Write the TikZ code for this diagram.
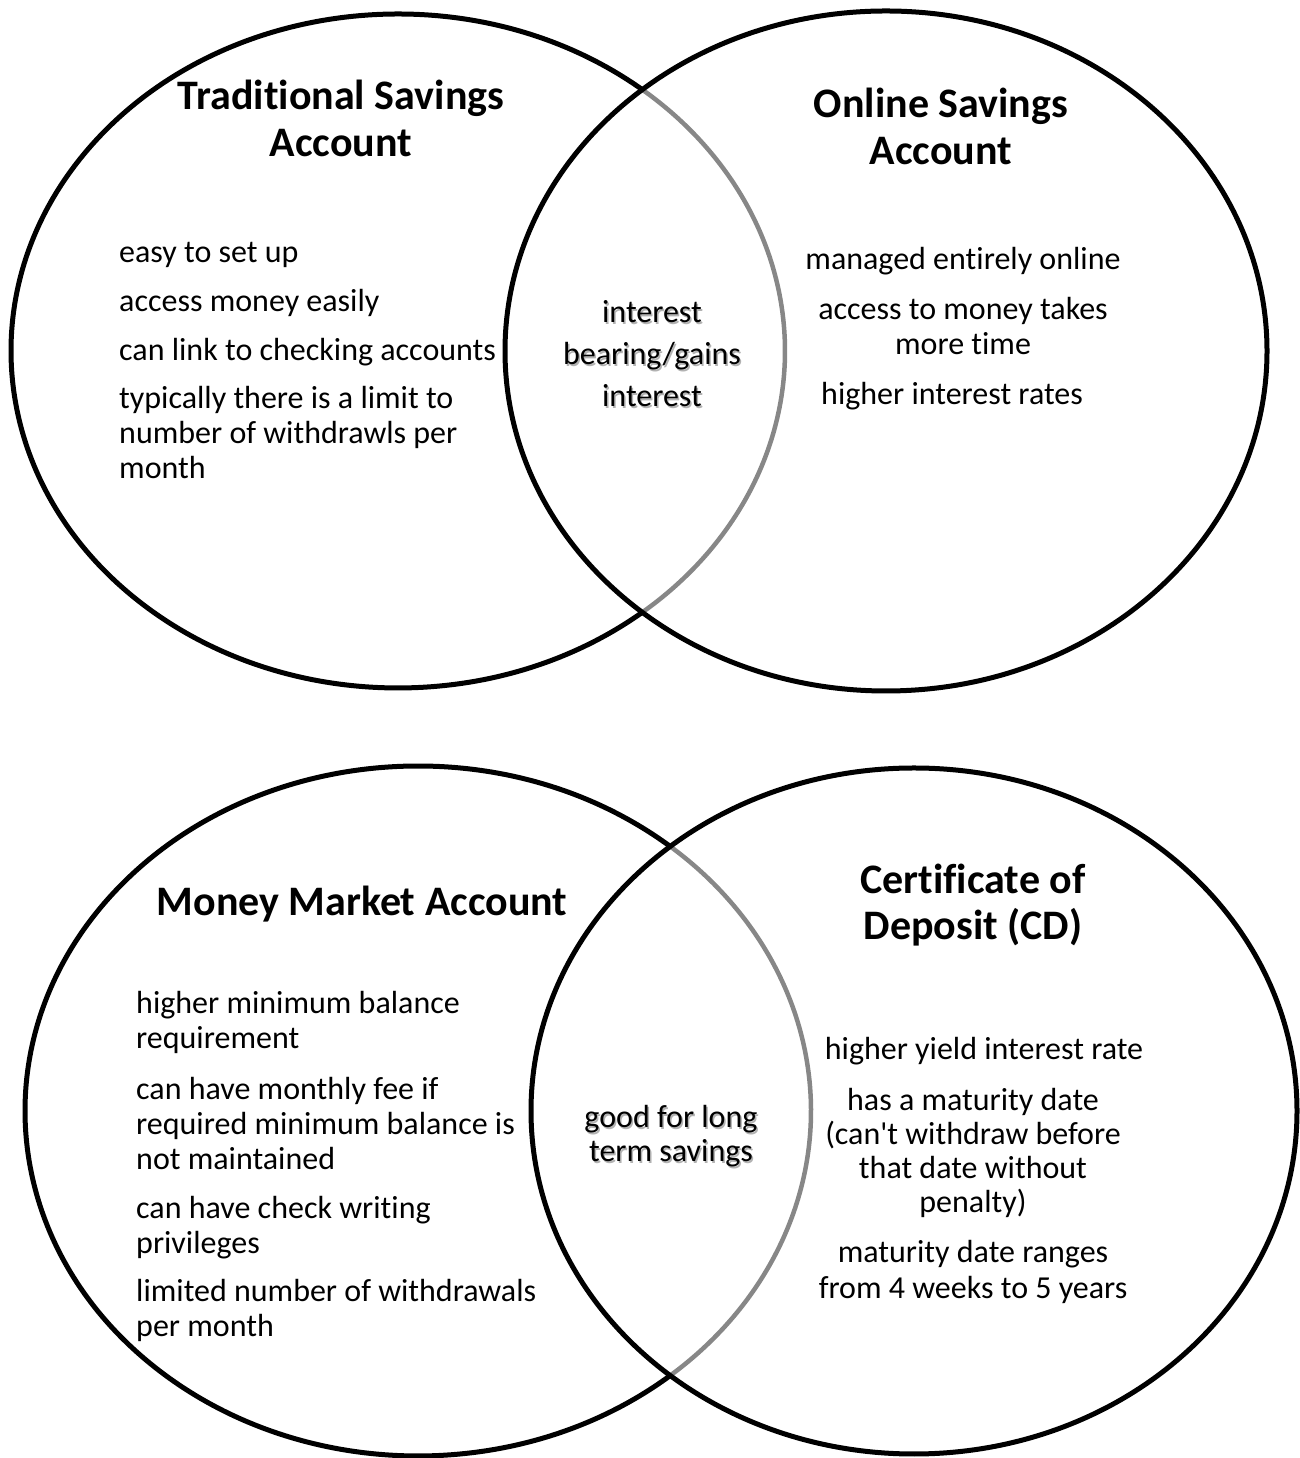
\documentclass[tikz,border=0pt]{standalone}
\usepackage{fontspec}
\setmainfont{Carlito}[Ligatures=NoCommon]
\newcommand\shadowed[1]{\makebox[0pt][l]{\kern1.5pt\raisebox{-1.5pt}{\textcolor{black!30}{#1}}}#1}
\tikzset{
  ring/.style={line width=5pt, draw=black},
  ringgray/.style={line width=4.5pt, draw=black!47},
  title/.style={font=\fontsize{42}{47}\selectfont\bfseries, align=center, anchor=base, inner sep=0pt},
  itemL/.style={font=\fontsize{32}{35}\selectfont, align=left, anchor=base west, inner sep=0pt},
  itemC/.style={font=\fontsize{32}{35}\selectfont, align=center, anchor=base, inner sep=0pt},
}
\begin{document}
\begin{tikzpicture}[x=1pt,y=1pt]
\useasboundingbox (0,0) rectangle (1300,1458);
% ---- top pair ----
\draw[ringgray] (398,1107) ++(-50.82:387pt and 337pt) arc[start angle=-50.82, end angle=50.82, x radius=387pt, y radius=337pt];
\draw[ring] (398,1107) ++(50.82:387pt and 337pt) arc[start angle=50.82, end angle=309.18, x radius=387pt, y radius=337pt];
\draw[ring] (886,1107) ellipse[x radius=381pt, y radius=340pt];
% ---- bottom pair ----
\draw[ringgray] (418,347) ++(-50.12:393pt and 345pt) arc[start angle=-50.12, end angle=50.12, x radius=393pt, y radius=345pt];
\draw[ring] (418,347) ++(50.12:393pt and 345pt) arc[start angle=50.12, end angle=309.88, x radius=393pt, y radius=345pt];
\draw[ring] (914,347) ellipse[x radius=383pt, y radius=343pt];

% (multi-line nodes are placed by the baseline of their last line)
% ---- top-left ----
\node[title] (tTrad) at (341,1301) {Traditional Savings\\Account};
\node[itemL] (tl1) at (119,1195) {easy to set up};
\node[itemL] (tl2) at (119,1146) {access money easily};
\node[itemL] (tl3) at (119,1097) {can link to checking accounts};
\node[itemL] (tl4) at (119,979) {typically there is a limit to\\number of withdrawls per\\month};
% ---- top middle ----
\node[itemC, font=\fontsize{32}{42}\selectfont] (tmid) at (652,1051) {\shadowed{interest}\\\shadowed{bearing/gains}\\\shadowed{interest}};
% ---- top-right ----
\node[title] (tOnline) at (941,1293) {Online Savings\\Account};
\node[itemC] (tr1) at (963,1188) {managed entirely online};
\node[itemC] (tr2) at (963,1103) {access to money takes\\more time};
\node[itemC] (tr3) at (952,1053) {higher interest rates};

% ---- bottom-left ----
\node[title] (tMoney) at (362,542) {Money Market Account};
\node[itemL] (bl1) at (136,409) {higher minimum balance\\requirement};
\node[itemL] (bl2) at (136,288) {can have monthly fee if\\required minimum balance is\\not maintained};
\node[itemL] (bl3) at (136,204) {can have check writing\\privileges};
\node[itemL] (bl4) at (136,121) {limited number of withdrawals\\per month};
% ---- bottom middle ----
\node[itemC, font=\fontsize{32}{34}\selectfont] (bmid) at (671,296) {\shadowed{good for long}\\\shadowed{term savings}};
% ---- bottom-right ----
\node[title, font=\fontsize{42}{46}\selectfont\bfseries] (tCD) at (973,518) {Certificate of\\Deposit (CD)};
\node[itemC] (br1) at (984,398) {higher yield interest rate};
\node[itemC, font=\fontsize{32}{34}\selectfont] (br2) at (973,245) {has a maturity date\\(can\textquotesingle t withdraw before\\that date without\\penalty)};
\node[itemC, font=\fontsize{32}{36}\selectfont] (br3) at (973,159) {maturity date ranges\\from 4 weeks to 5 years};
\end{tikzpicture}
\end{document}
